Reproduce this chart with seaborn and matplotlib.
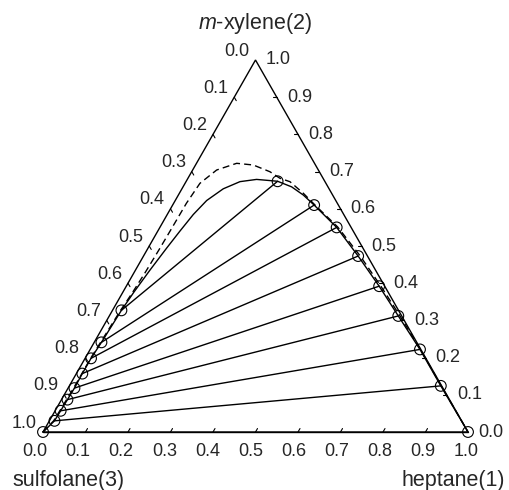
import numpy as np
import pandas as pd
import matplotlib
matplotlib.use("Agg")
import matplotlib.pyplot as plt
import seaborn as sns

# ---------------- data (mole fractions: x1 = heptane, x2 = m-xylene) ----------------
heptane_raff = [0.215, 0.333, 0.416, 0.505, 0.595, 0.680, 0.776, 0.874, 1.000]
xylene_raff = [0.674, 0.610, 0.550, 0.473, 0.392, 0.312, 0.222, 0.124, 0.000]
heptane_ext = [0.021, 0.017, 0.014, 0.014, 0.015, 0.014, 0.013, 0.012, 0.000]
xylene_ext = [0.327, 0.241, 0.198, 0.157, 0.118, 0.087, 0.057, 0.030, 0.000]

# binodal curve (solid)
heptane_bin = [0.000, 0.012, 0.013, 0.014, 0.015, 0.014, 0.014, 0.017, 0.021, 0.0259,
               0.0341, 0.0438, 0.0522, 0.0613, 0.074, 0.0973, 0.127, 0.163, 0.200, 0.215,
               0.2555, 0.294, 0.333, 0.416, 0.505, 0.595, 0.680, 0.776, 0.874, 1.000]
xylene_bin = [0.000, 0.030, 0.057, 0.087, 0.118, 0.157, 0.198, 0.241, 0.327, 0.3763,
              0.4355, 0.4946, 0.5403, 0.5847, 0.6223, 0.6538, 0.673, 0.679, 0.6755, 0.674,
              0.659, 0.637, 0.610, 0.550, 0.473, 0.392, 0.312, 0.222, 0.124, 0.000]

# binodal curve (dashed)
heptane_dash = [0.000, 0.010, 0.011, 0.012, 0.013, 0.013, 0.013, 0.015, 0.019, 0.023,
                0.026, 0.028, 0.029, 0.030, 0.035, 0.0565, 0.0946, 0.136, 0.184, 0.2166,
                0.2448, 0.2917, 0.3412, 0.418, 0.510, 0.599, 0.684, 0.777, 0.876, 1.000]
xylene_dash = [0.000, 0.030, 0.057, 0.087, 0.118, 0.157, 0.198, 0.241, 0.327, 0.373,
               0.427, 0.489, 0.543, 0.615, 0.6685, 0.7043, 0.7223, 0.7177, 0.6997, 0.682,
               0.6728, 0.6417, 0.6056, 0.551, 0.473, 0.392, 0.312, 0.222, 0.123, 0.000]

tick_values = [0.0, 0.1, 0.2, 0.3, 0.4, 0.5, 0.6, 0.7, 0.8, 0.9, 1.0]
tick_labels = ["0.0", "0.1", "0.2", "0.3", "0.4", "0.5", "0.6", "0.7", "0.8", "0.9", "1.0"]

# ---------------- style ----------------
sns.set_theme(style="white")
plt.rcParams['font.family'] = ['Liberation Sans', 'DejaVu Sans']
plt.rcParams['mathtext.fontset'] = 'custom'
plt.rcParams['mathtext.it'] = 'Liberation Sans:italic'
plt.rcParams['mathtext.rm'] = 'Liberation Sans'

S3 = np.sqrt(3) / 2


def tern(x1, x2):
    x1 = np.asarray(x1, float)
    x2 = np.asarray(x2, float)
    return x1 + x2 / 2, x2 * S3


fig = plt.figure(figsize=(5.1, 4.9), dpi=100)
fig.patch.set_facecolor("white")
ax = fig.add_axes([43 / 510, 58 / 490, 425 / 510, 372 / 490])
ax.set_xlim(0, 1)
ax.set_ylim(0, S3)
ax.axis("off")

PX = 1 / 425          # data units per pixel in X
PY = S3 / 372         # data units per pixel in Y
LW = 1.0

# triangle frame
fx, fy = tern([0, 1, 0, 0], [0, 0, 1, 0])
ax.plot(fx, fy, color="black", lw=LW, clip_on=False, solid_joinstyle="miter")

# ticks (inward)
TL = 4.0
for v in tick_values[1:-1]:
    # bottom axis (heptane)
    x0, y0 = tern(v, 0)
    ax.plot([x0, x0 + TL * 0.5 * PX], [y0, y0 + TL * 0.866 * PY], color="black", lw=0.8)
    # right axis (m-xylene)
    x0, y0 = tern(1 - v, v)
    ax.plot([x0, x0 - TL * PX], [y0, y0], color="black", lw=0.8)
    # left axis (sulfolane)
    x0, y0 = tern(0, 1 - v)
    ax.plot([x0, x0 + TL * 0.5 * PX], [y0, y0 - TL * 0.866 * PY], color="black", lw=0.8)

# binodal curves
bx, by = tern(heptane_bin, xylene_bin)
sns.lineplot(x=bx, y=by, sort=False, estimator=None, color="black", lw=LW, ax=ax, clip_on=False)
dx, dy = tern(heptane_dash, xylene_dash)
sns.lineplot(x=dx, y=dy, sort=False, estimator=None, color="black", lw=LW,
             linestyle=(0, (5, 3)), ax=ax, clip_on=False)

# tie lines
ex, ey = tern(heptane_ext, xylene_ext)
rx, ry = tern(heptane_raff, xylene_raff)
rows = []
for i in range(len(heptane_ext)):
    rows.append({"X": ex[i], "Y": ey[i], "tie": i})
    rows.append({"X": rx[i], "Y": ry[i], "tie": i})
ties = pd.DataFrame(rows)
sns.lineplot(data=ties, x="X", y="Y", units="tie", estimator=None, sort=False,
             color="black", lw=LW, ax=ax, clip_on=False)

# experimental points
pts = pd.DataFrame({"X": np.concatenate([ex, rx]), "Y": np.concatenate([ey, ry])})
sns.scatterplot(data=pts, x="X", y="Y", marker="o", s=60, facecolors="none",
                edgecolor="black", linewidth=0.8, ax=ax, clip_on=False, zorder=5)

ax.set_xlabel("")
ax.set_ylabel("")

FS = 13
# bottom labels (heptane)
for v, lab in zip(tick_values, tick_labels):
    x0, y0 = tern(v, 0)
    ax.text(x0 - (8 - 6 * v) * PX, y0 - 19 * PY, lab, ha="center", va="center", fontsize=FS)
# right labels (m-xylene)
for v, lab in zip(tick_values, tick_labels):
    x0, y0 = tern(1 - v, v)
    ax.text(x0 + 10 * PX, y0, lab, ha="left", va="center", fontsize=FS)
# left labels (sulfolane)
for v, lab in zip(tick_values, tick_labels):
    x0, y0 = tern(0, 1 - v)
    ax.text(x0 - 6 * PX, y0 + 9 * PY, lab, ha="right", va="center", fontsize=FS)

# component labels
fig.text(255 / 510, 1 - 23 / 490, r"$\it{m}$-xylene(2)", ha="center", va="center", fontsize=15.5)
fig.text(12 / 510, 1 - 480 / 490, "sulfolane(3)", ha="left", va="center", fontsize=15.5)
fig.text(505 / 510, 1 - 480 / 490, "heptane(1)", ha="right", va="center", fontsize=15.5)

fig.savefig("out.png", dpi=100, facecolor="white")
